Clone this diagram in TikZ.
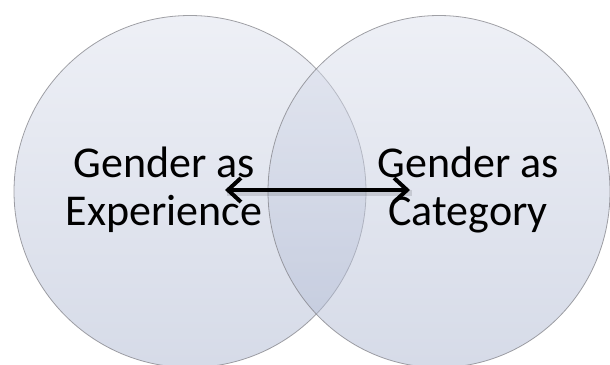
\documentclass[tikz,border=0pt]{standalone}
\usepackage{fontspec}
\setmainfont{Carlito}
\usetikzlibrary{arrows.meta}
\definecolor{circtop}{RGB}{221,225,237}
\definecolor{circbot}{RGB}{173,183,209}
\definecolor{circedge}{RGB}{130,130,136}
\tikzset{
  venn/.style={top color=circtop, bottom color=circbot, fill opacity=0.5, draw=circedge, draw opacity=0.75, line width=0.8pt},
  lbl/.style={align=center, font=\fontsize{44}{48}\selectfont, inner sep=0pt, text=black},
  dblarrow/.style={line width=4pt, {Straight Barb[length=13pt,width=24pt]}-{Straight Barb[length=13pt,width=24pt]}},
  arrshadow/.style={line width=6pt, draw=black, draw opacity=0.12}
}
\begin{document}
\begin{tikzpicture}[x=1pt,y=-1pt]
\useasboundingbox (0,0) rectangle (610,364);
\shade[venn] (190,191.5) ellipse [x radius=176, y radius=176];
\shade[venn] (439,191.5) ellipse [x radius=171, y radius=176];
\node[lbl, anchor=base] (exp) at (164,225) {Gender as\\Experience};
\node[lbl, anchor=base] (cat) at (468,225) {Gender as\\Category};
\coordinate (la) at (225,190);
\coordinate (ra) at (410,190);
\draw[arrshadow] ([shift={(2,3)}]la) -- ([shift={(2,3)}]ra);
\draw[dblarrow] (la) -- (ra);
\end{tikzpicture}
\end{document}
